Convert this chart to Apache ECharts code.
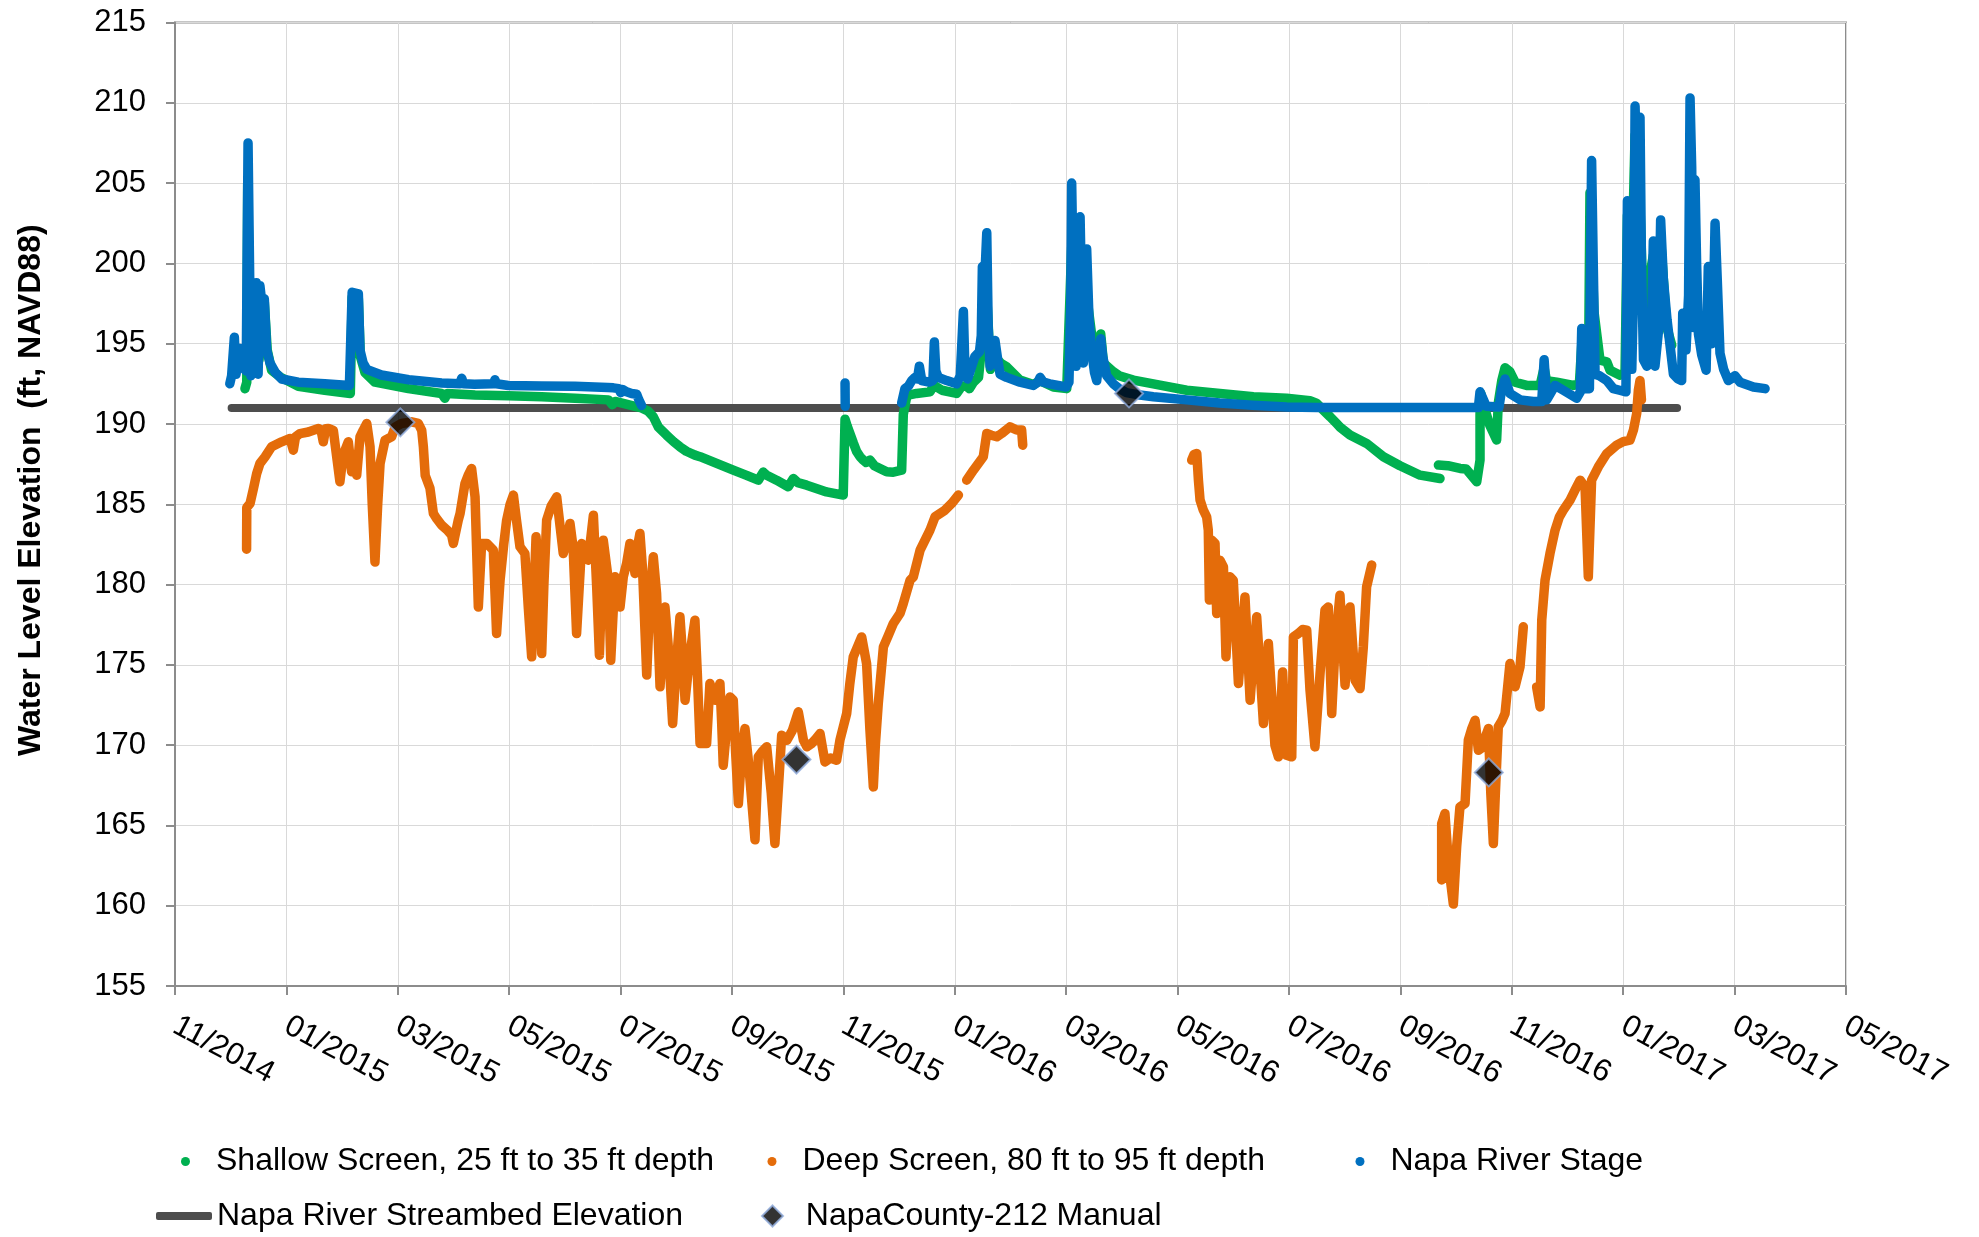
<!DOCTYPE html>
<html><head><meta charset="utf-8">
<script src="https://cdn.jsdelivr.net/npm/echarts@6/dist/echarts.min.js"></script>
<style>html,body{margin:0;padding:0;background:#fff}#c{width:1979px;height:1237px}</style>
</head><body><div id="c"></div>
<script>
// x values are days since START_DATE
const START_DATE = '2014-11-01';
const X_MAX_DAYS = 915;
const TICK_STEP_DAYS = 61;
const TICK_LABELS = ['11/2014','01/2015','03/2015','05/2015','07/2015','09/2015','11/2015','01/2016',
  '03/2016','05/2016','07/2016','09/2016','11/2016','01/2017','03/2017','05/2017'];

const SERIES_NAMES = ['Shallow Screen, 25 ft to 35 ft depth','Deep Screen, 80 ft to 95 ft depth',
  'Napa River Stage','Napa River Streambed Elevation','NapaCounty-212 Manual'];

const SHALLOW = [
 [38.3,192.2],[39.3,192.6],[39.8,205.0],[40.8,197],[42,193.5],[44.5,198.5],[46,194],[48.9,197.6],[50.5,194.6],
 [52.9,193.35],[58,192.9],[67.5,192.35],[82,192.1],[96,191.9],[97,197.9],[100.4,197.8],[101.5,194.2],[104,193.2],
 [109.5,192.6],[127.8,192.2],[146,191.9],[147.8,191.6],[149,191.9],[164.3,191.8],[182.5,191.75],[200.8,191.69],
 [219,191.6],[237.3,191.5],[239.5,191.2],[241,191.4],[251.9,191.1],[255.5,191.0],[259,190.8],[261.9,190.45],
 [264.7,189.8],[269.2,189.3],[273,188.9],[276.5,188.58],[280,188.3],[284.7,188.06],[287.5,187.96],[296.6,187.54],
 [305.7,187.12],[313,186.8],[319.4,186.5],[322.1,187.0],[324,186.8],[329.4,186.5],[335.8,186.09],[338.6,186.6],
 [341,186.35],[345.9,186.19],[356.8,185.77],[365.9,185.57],[366.9,190.3],[368,189.9],[369.6,189.4],[371.5,188.8],
 [373.3,188.27],[375.1,187.96],[376.9,187.75],[378.5,187.6],[380.6,187.75],[383,187.4],[386,187.23],[389.7,187.02],
 [393.3,187.0],[397.9,187.12],[398.8,190.6],[400.5,191.6],[401.6,191.8],[406.1,191.9],[413.4,192.0],[415.5,192.4],
 [417.1,192.3],[420,192.1],[428,191.9],[430.5,192.3],[433,192.4],[435,192.2],[437.2,192.6],[440,192.9],[444.5,198],
 [446.5,193.4],[449,194.2],[452,193.8],[455.4,193.56],[462.7,192.73],[470,192.45],[473.7,192.7],[481,192.3],
 [488.3,192.2],[491,201],[493.5,194.5],[495.6,198],[499.2,198],[502,195.5],[504.7,194],[506.9,195.6],[508.4,193.8],
 [513.8,193.25],[517,193.0],[524.8,192.73],[535.7,192.5],[554,192.1],[572.2,191.9],[590.5,191.69],[608.7,191.6],
 [621.5,191.45],[625,191.3],[628.8,190.86],[632.5,190.45],[636.1,190.03],[638,189.8],[643.4,189.31],[652.5,188.79],
 [661.7,187.96],[670.8,187.4],[681.8,186.81],[692.7,186.6],
 [692.2,null],
 [691.8,187.44],[697,187.4],[703.7,187.23],[707,187.2],[712.8,186.4],[714.6,187.75],[714.6,189.2],[714.6,190.6],
 [715,191.9],[717.3,190.9],[720,189.9],[723.7,189.0],[724.6,191.3],[726.5,192.7],[728.3,193.5],[731,193.25],
 [733.8,192.6],[740.2,192.4],[747.5,192.4],[749.7,193.5],[751,192.7],[756.6,192.6],[765.7,192.4],[769,192.5],
 [770.5,195.3],[772,192.9],[774,193.0],[774.8,204.4],[777,197],[780.3,193.97],[784,193.87],[785.8,193.35],
 [791.3,193.04],[794,193.2],[795.3,203],[797,196],[799.5,208],[802.2,203.5],[804,197],[809.5,200.5],[812,196],
 [813.5,201.5],[816.8,196.05],[819.6,194.9]
];

const DEEP = [
 [39.2,182.2],[39.3,184.8],[41.1,185.05],[43,186],[44.7,186.9],[46.5,187.54],[49.3,187.95],[52.9,188.58],[58.4,188.89],
 [63,189.1],[64.8,188.37],[66,189.2],[68.4,189.4],[73,189.5],[78.5,189.72],[80,189.6],[81.2,188.89],[82.5,189.7],
 [84,189.72],[86.7,189.6],[88.5,188],[90.3,186.4],[92,188],[93.1,188.37],[94.9,188.89],[96.7,187.02],[98,187.5],
 [99.5,186.81],[101.3,189.2],[103,189.6],[105,190.03],[106.8,188.58],[108,185],[109.5,181.4],[111,185],[112.3,187.54],
 [115,188.99],[118.6,189.2],[120.5,189.8],[124.1,190.03],[129.6,190.13],[133.2,190.03],[135.1,189.6],[136,188.58],
 [137,186.8],[139.6,186.0],[141.5,184.42],[143.3,184.1],[146,183.7],[149,183.4],[151.5,183.07],[152.4,182.56],
 [155.1,184.0],[156.1,184.42],[158.8,186.3],[160.5,186.8],[162.4,187.23],[163.4,187.2],[164.3,185.46],[166.1,178.6],
 [167.9,182.56],[170.7,182.56],[174.3,182.14],[176.1,176.95],[178,180.27],[180,182.5],[181.6,184.01],[183.5,185.0],
 [185.3,185.57],[187,184],[188.9,182.35],[191.6,181.93],[193.5,178.5],[195.3,175.5],[197.7,182.97],[199.5,180],
 [200.8,175.7],[202,180],[203.5,184.01],[206,184.9],[209,185.46],[211,183.5],[212.6,181.93],[214,182.5],[216.3,183.8],
 [218,182.3],[219.9,176.95],[222.7,182.56],[224.5,182.2],[226.3,181.52],[229.1,184.32],[230.9,179.86],[232.4,175.6],
 [234.5,182.76],[237.3,180.27],[238.6,175.29],[240.9,180.48],[242.5,179.6],[243.7,178.6],[245.5,180.5],[247.3,181.31],
 [249.1,182.56],[250.5,181.8],[251.9,180.69],[253,182.2],[254.6,183.18],[256,181],[258.3,174.36],[260,179],
 [261.9,181.73],[263.7,179.44],[265.6,173.63],[267,176.5],[268.3,178.6],[270,176.3],[272.5,171.35],[274.5,175],
 [276.5,177.99],[278,175.5],[279.3,172.8],[282,175.7],[284.7,177.78],[286,174.5],[287.5,170.1],[291.1,170.1],
 [292.9,173.84],[295.7,172.8],[298.4,173.84],[299.3,171.5],[300.2,168.75],[302,171],[303.9,173.0],[305.7,172.8],
 [307,169.5],[308.5,166.36],[310.3,169.5],[312.1,171.03],[314,169],[317.6,164.1],[319.4,169.27],[321.5,169.6],
 [324,169.9],[326.5,167],[328.5,163.87],[330.5,167.5],[332.2,170.62],[335,170.3],[338,170.9],[341.3,172.07],
 [344.1,170.31],[346,169.9],[348.6,170.1],[351,170.4],[353.2,170.72],[355.9,168.95],[359,169.2],[362.3,169.06],
 [364.1,170.31],[367.8,171.97],[369.5,173.8],[371.4,175.5],[374,176.2],[376,176.74],[378.7,175.08],[380.5,171],
 [382.4,167.4],[383.5,170],[385.1,172.59],[387.9,176.12],[390.5,176.8],[393.3,177.57],[397,178.2],[398.8,178.82],
 [402.5,180.27],[404.3,180.48],[408,182.14],[413.4,183.39],[416.2,184.22],[421.6,184.63],[425.3,185.05],[429,185.57],
 [431,null],
 [433.5,186.5],[437.2,187.12],[442.6,187.96],[444.5,189.41],[447,189.3],[450,189.2],[452.7,189.41],[457.2,189.82],
 [460.9,189.62],[463.6,189.62],[464.2,188.68],
 [510,null],
 [556.7,187.75],[558,188.1],[559.5,188.16],[560.4,186.5],[561.3,185.26],[563.1,184.63],[564.9,184.22],[565.8,183.39],
 [566.4,179.03],[567.7,182.76],[569.5,182.56],[570.4,178.2],[572.2,181.52],[574.1,181.1],[575.5,175.5],[577.7,180.48],
 [579.5,180.27],[582.3,173.84],[585.9,179.23],[588.7,172.8],[590.5,175.5],[592.3,177.99],[596,171.35],[598.7,176.33],
 [602.3,169.99],[604.2,169.27],[606.5,174.56],[608.7,169.37],[611.5,169.27],[612.4,176.74],[615.1,176.95],[617.5,177.2],
 [619.7,177.16],[621.5,173.42],[624.2,169.89],[627,174.46],[629.7,178.41],[631.5,178.6],[633.4,171.97],[635.2,176.12],
 [637.9,179.34],[640.7,173.73],[643.4,178.6],[646.2,174.04],[648.9,173.52],[650.7,176.12],[652.5,179.86],[655.3,181.21],
 [675,null],
 [693.6,161.6],[693.6,165.1],[695.4,165.74],[697.3,162.62],[700,160.1],[701.8,163.66],[703.6,166.15],[706.4,166.36],
 [708.2,170.31],[710,171],[711.9,171.55],[713.7,169.68],[716.4,169.89],[717.5,170.5],[719.2,171.03],[720.5,167],
 [721.9,163.87],[723,167],[724.6,171.14],[726.5,171.5],[728.3,171.97],[731,175.08],[733.8,173.63],[736.5,174.87],
 [738.3,177.37],
 [742,null],
 [745.6,173.63],[747.5,172.38],[748.4,177.78],[750.2,180.27],[752.9,181.93],[755.7,183.39],[758,184.2],[760.2,184.63],
 [763.9,185.26],[766.6,185.88],[769.4,186.5],[772.1,186.09],[773.9,180.48],[775.7,186.5],[779.4,187.33],[784,188.16],
 [789.4,188.68],[793,188.9],[796.7,188.99],[798.6,189.62],[800.4,190.66],[801.3,192.1],[802.2,192.7],[803,191.5]
];

const RIVER = [
 [30,192.5],[31,193.0],[32.5,195.4],[33.4,193.1],[35.6,194.7],[37,193.5],[39,193.3],[40,207.5],[40.8,200],[41.5,193.0],
 [43,193.3],[44.5,198.8],[45.5,193.1],[46.5,198.6],[47.5,197.6],[48.9,197.8],[50.2,194.6],[52,193.8],[55,193.2],
 [58.4,192.8],[67.5,192.6],[82,192.5],[95.5,192.4],[97,198.2],[100.4,198.1],[101.3,194.6],[103,193.8],[105,193.4],
 [113,193.05],[128,192.75],[146,192.55],[156,192.5],[157,192.85],[158,192.5],[164,192.48],[174.5,192.5],[175.2,192.75],
 [176,192.5],[182.5,192.4],[200.8,192.36],[219,192.35],[237,192.27],[240,192.25],[243,192.2],[244,191.95],[245,192.15],
 [247.3,192.0],[250,191.9],[252.8,191.85],[254,191.5],[255.5,191.15],
 [300,null],
 [366.9,192.55],[367,191.1],
 [380,null],
 [397.9,191.3],[399.7,192.2],[401.6,192.35],[403.4,192.7],[405.2,192.9],[406.5,192.8],[407.6,193.6],[408.9,192.7],
 [413,192.6],[415,192.7],[415.8,195.1],[416.6,193.3],[418,192.9],[422.6,192.7],[428,192.5],[430,193.0],[431.7,197.0],
 [432.6,193.2],[434,192.8],[436,193.5],[438,194.2],[440.5,194.5],[441.5,195.5],[442.1,199.8],[443,198],[444.5,201.9],
 [445.3,196],[446.3,193.6],[448,194.0],[449,195.2],[450.5,194.0],[451.8,193.1],[455.4,192.9],[462.7,192.6],[470,192.4],
 [472.5,192.6],[473.7,192.9],[475.5,192.6],[479,192.5],[488,192.3],[489.5,192.6],[490.5,197.5],[491,205.0],[492,198],
 [493.4,193.6],[494.5,196],[495.6,202.9],[496.5,197.5],[497.4,193.8],[498.5,197],[499.2,200.9],[500.5,196.5],[502,194.5],
 [503.5,193.2],[504.7,192.7],[505.5,193.5],[506.9,195.3],[508,194.2],[510.2,193.0],[513.8,192.5],[517,192.2],[521,191.95],
 [528.4,191.8],[535.7,191.7],[554,191.5],[572,191.3],[590,191.17],[608.7,191.05],[625,191.03],[713.7,191.03],[714.6,192.0],
 [716.5,191.5],[718,191.1],[725,191.05],[726.5,192.2],[728.3,192.8],[731,191.9],[736.5,191.5],[743.8,191.4],[748.4,191.4],
 [749.7,194.0],[751.1,191.5],[755.7,192.4],[760.2,192.1],[767.5,191.6],[769.5,192.0],[770.3,195.95],[771.5,192.6],
 [772.1,192.2],[774.5,192.2],[775.7,206.4],[776.6,200],[777.6,193.1],[780,193.0],[784,192.7],[787.6,192.2],[791,192.1],
 [794.5,192.0],[795.3,203.9],[796.3,197],[797.7,193.4],[799,200],[799.5,209.8],[800.5,205],[801.5,200],[802.2,209.1],
 [803,200],[804.1,194.0],[806,193.6],[808.5,196],[809.5,201.4],[810.4,193.6],[812.5,196],[813.5,202.7],[815,199],
 [817,196.5],[820.5,193.1],[823,192.8],[825,192.7],[825.6,196.9],[826.5,195.5],[827.4,194.6],[828.8,198],[829.6,210.3],
 [830.5,206],[831.5,196],[832.3,205.2],[833.2,200],[834.2,195.6],[836,194.3],[838.4,193.35],[839.6,199.8],[840.5,197],
 [841.5,195.0],[842.5,198],[843.3,202.5],[844.5,199],[846,194.4],[848,193.4],[850.6,192.7],[852,192.8],[854.2,193.0],
 [857,192.6],[864.3,192.3],[870.7,192.2]
];

const STREAMBED = [[31,191],[822.5,191]];
const MANUAL = [[123.4,190.1],[340.3,169.1],[522.4,191.9],[719.4,168.3]];

const COLORS = ['#00b050','#e46c0a','#0070c0','#4d4d4d','#000000'];
const FONT = '"Liberation Sans", Arial, sans-serif';

const chart = echarts.init(document.getElementById('c'), null, {renderer:'canvas'});
const axisTxt = {color:'#000', fontSize:31, fontFamily:FONT};
const legTxt = {color:'#000', fontSize:32, fontFamily:FONT, rich:{s:{width:21, fontSize:32}}};

function lineSeries(name, data, color, z){
  return {name, type:'line', data, showSymbol:false, symbol:'circle', connectNulls:false, z,
    lineStyle:{color, width:9.5, cap:'round', join:'round'}, itemStyle:{color}, emphasis:{disabled:true}};
}
function dotLegend(name, left){
  return {data:[{name, icon:'circle'}], left, top:1145.5, itemWidth:9, itemHeight:9, padding:0,
    selectedMode:false, textStyle:legTxt, formatter:'{s| }{name}'};
}

const option = {
  animation:false,
  backgroundColor:'#fff',
  grid:{left:175, right:133, top:22.5, bottom:251, show:true, borderColor:'#8c8c8c', borderWidth:2, containLabel:false},
  xAxis:{type:'value', min:0, max:X_MAX_DAYS, interval:TICK_STEP_DAYS,
    axisLine:{show:true, onZero:false, lineStyle:{color:'#8c8c8c', width:2}},
    axisTick:{show:true, length:9, lineStyle:{color:'#8c8c8c', width:2}},
    splitLine:{show:true, lineStyle:{color:'#d9d9d9', width:1}},
    axisLabel:{rotate:-28, margin:38, ...axisTxt, formatter:(v)=>TICK_LABELS[Math.round(v/TICK_STEP_DAYS)]||''}},
  yAxis:{type:'value', min:155, max:215, interval:5,
    name:'Water Level Elevation  (ft, NAVD88)', nameLocation:'middle', nameRotate:90, nameGap:128,
    nameTextStyle:{color:'#000', fontSize:32, fontWeight:'bold', fontFamily:FONT, padding:[0,0,0,28]},
    axisLine:{show:true, lineStyle:{color:'#8c8c8c', width:2}},
    axisTick:{show:true, length:9, lineStyle:{color:'#8c8c8c', width:2}},
    splitLine:{show:true, lineStyle:{color:'#d9d9d9', width:1}},
    axisLabel:{margin:29, ...axisTxt}},
  legend:[
    dotLegend(SERIES_NAMES[0], 181),
    dotLegend(SERIES_NAMES[1], 767.5),
    dotLegend(SERIES_NAMES[2], 1355.5),
    {data:[{name:SERIES_NAMES[3], icon:'roundRect'}], left:156, top:1200, itemWidth:56, itemHeight:8, padding:0,
      selectedMode:false, textStyle:{color:'#000', fontSize:32, fontFamily:FONT}},
    {data:[{name:SERIES_NAMES[4], icon:'diamond', itemStyle:{color:'#000', borderColor:'#8eaadb', borderWidth:2}}],
      left:761, top:1200, itemWidth:21, itemHeight:21, padding:0, selectedMode:false,
      textStyle:{color:'#000', fontSize:32, fontFamily:FONT}, formatter:'  {name}'}
  ],
  series:[
    {name:SERIES_NAMES[3], type:'line', data:STREAMBED, showSymbol:false, z:1,
      lineStyle:{color:COLORS[3], width:8, cap:'round'}, itemStyle:{color:COLORS[3]}},
    lineSeries(SERIES_NAMES[0], SHALLOW, COLORS[0], 2),
    lineSeries(SERIES_NAMES[1], DEEP, COLORS[1], 3),
    lineSeries(SERIES_NAMES[2], RIVER, COLORS[2], 4),
    {name:SERIES_NAMES[4], type:'scatter', data:MANUAL, symbol:'diamond', symbolSize:28, z:5,
      itemStyle:{color:'#000', borderColor:'#8eaadb', borderWidth:2}}
  ]
};
chart.setOption(option);
</script></body></html>
